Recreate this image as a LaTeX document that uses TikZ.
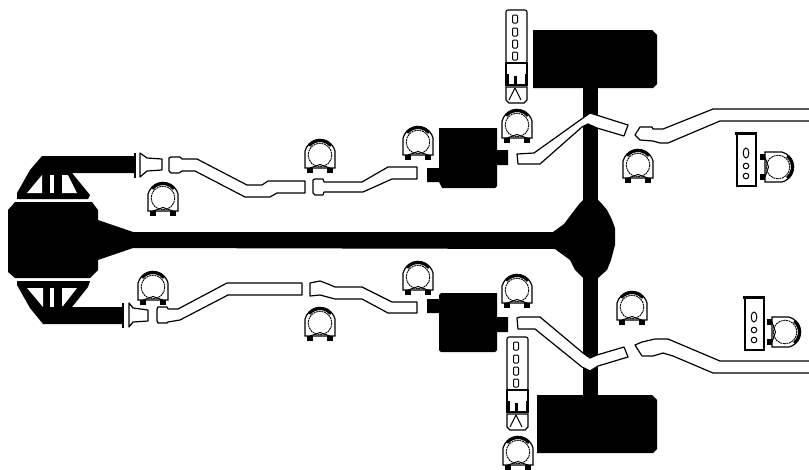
\documentclass[tikz,border=0pt]{standalone}
\tikzset{
  pipeline/.style={draw=black,fill=white,line width=1.2pt,line join=round},
  solidpart/.style={fill=black,draw=none},
  thinpart/.style={draw=black,line width=1.1pt,fill=white},
  cutout/.style={fill=white,draw=none},
  clamp/.pic={
    \draw[line width=1.2pt,fill=white] (15,-4) arc (345:195:15.5) -- (-15,13) -- (15,13) -- cycle;
    \draw[line width=.9pt,dash pattern=on 2pt off .7pt] (0,0) circle (11.8);
    \draw[line width=3.2pt] (-11,-9.4) arc (220:320:14.4);
    \draw[line width=1pt] (-10,13) -- (0,9.5) -- (10,13);
    \fill (-13,13) rectangle (-7,18);
    \fill (7,13) rectangle (13,18);
  },
  sensor/.pic={
    \draw[thinpart,rounded corners=2pt] (0,0) rectangle (21,53);
    \foreach \yy in {5,18,30,42} \draw[line width=1pt,rounded corners=1pt] (6.5,\yy) rectangle (11.5,\yy+8);
    \draw[line width=1.1pt,fill=white] (0,53) rectangle (21,75);
    \fill (0,64) rectangle (2.5,75);
    \fill (18.5,64) rectangle (21,75);
    \fill (7.5,66) rectangle (10.5,74);
    \fill (0,74) rectangle (21,75.5);
    \draw[line width=1.1pt,fill=white] (0,77) -- (21,77) -- (21,90) -- (18,93) -- (3,93) -- (0,90) -- cycle;
    \draw[line width=1pt] (9,78) -- (3,90);
    \draw[line width=1pt] (9,78) -- (15,90);
  },
  relaybox/.pic={
    \draw[line width=1.1pt] (0,0) rectangle (19,53);
    \fill (-2,-1) rectangle (19,1.5);
    \draw[line width=1pt] (9,20) ellipse (2.8 and 5);
    \draw[line width=1pt] (9,33) circle (2.8);
    \draw[line width=1pt] (9,43) circle (2.8);
  }
}
\begin{document}
\begin{tikzpicture}[x=1pt,y=-1pt]
\useasboundingbox (0,0) rectangle (809,469);
\fill[white] (0,0) rectangle (809,469);
% engine
\fill[solidpart] (8,210) -- (15,202) -- (92,202) -- (98,210) -- (98,220) -- (133,232) -- (553,232)
  -- (564,224) -- (573,212) -- (580,203) -- (584,199) -- (597,199) -- (602,204) -- (607,210) -- (612,220) -- (615,228) -- (615,245) -- (611,260) -- (607,270) -- (597,279)
  -- (584,279) -- (575,270) -- (570,260) -- (555,249)
  -- (133,248) -- (98,260) -- (98,270) -- (90,278) -- (15,278) -- (8,272) -- cycle;
% manifolds
\fill[solidpart] (42,156) -- (135,156) -- (135,173) -- (72,173) -- (90,195) -- (88,199) -- (17,199) -- (17,193) -- (30,170) -- cycle;
\fill[cutout] (42,175) -- (42,193) -- (27,193) -- cycle;
\fill[cutout] (50,175) rectangle (54,193);
\fill[cutout] (62,175) -- (68,175) -- (77,193) -- (62,193) -- cycle;
\fill[solidpart] (17,281) -- (90,281) -- (88,287) -- (72,307) -- (123,307) -- (123,324) -- (43,324) -- (30,308) -- (17,285) -- cycle;
\fill[cutout] (27,288) -- (43,288) -- (43,307) -- cycle;
\fill[cutout] (50,288) rectangle (54,307);
\fill[cutout] (62,288) -- (77,288) -- (63,306) -- (62,306) -- cycle;
% flanges
\draw[line width=1.2pt] (135,153) -- (135,178);
\draw[pipeline] (140,153) -- (147,158) -- (162,159) -- (162,170) -- (147,171) -- (140,177) -- cycle;
\draw[line width=1.2pt] (123,303) -- (123,328);
\draw[pipeline] (129,303) -- (133,308) -- (148,310) -- (148,321) -- (133,322) -- (129,327) -- cycle;
% axle and wheels
\fill[solidpart] (583,85) rectangle (598,398);
\fill[solidpart] (533,30) -- (652,30) -- (657,35) -- (657,84) -- (653,88) -- (533,88) -- cycle;
\fill[solidpart] (537,395) -- (652,395) -- (657,400) -- (657,449) -- (653,453) -- (537,453) -- cycle;
% mufflers
\fill[solidpart] (439,128) -- (497,128) -- (497,150) -- (508,150) -- (508,165) -- (497,165) -- (497,186) -- (495,188) -- (442,188) -- (439,182) -- (427,182) -- (427,168) -- (439,168) -- cycle;
\fill[solidpart] (441,293) -- (497,293) -- (497,317) -- (508,317) -- (508,332) -- (497,332) -- (497,350) -- (495,352) -- (441,352) -- (439,350) -- (439,313) -- (427,313) -- (427,299) -- (439,299) -- (439,295) -- cycle;
% pipes
\draw[pipeline] (169,158) -- (171,157) -- (180,157) -- (182,159) -- (197,159) -- (247,185) -- (262,185) -- (268,181) -- (305,181) -- (305,193) -- (277,193) -- (270,197) -- (245,197) -- (195,171) -- (182,171) -- (179,173) -- (171,173) -- (169,171) -- cycle;
\draw[pipeline] (313,180) -- (315,179) -- (323,179) -- (324,182) -- (362,182) -- (388,167) -- (417,167) -- (417,179) -- (392,179) -- (363,192) -- (324,192) -- (323,195) -- (315,195) -- (313,193) -- cycle;
\draw[pipeline] (517,154) -- (534,153) -- (590,113) -- (628,125) -- (624,136) -- (597,128) -- (588,124) -- (582,127) -- (540,164) -- (518,164) -- cycle;
\draw[pipeline] (635,135) -- (640,127) -- (652,127) -- (653,129) -- (663,129) -- (713,109) -- (812,109) -- (812,121) -- (720,121) -- (668,143) -- (660,143) -- (653,141) -- (640,140) -- cycle;
\draw[pipeline] (157,309) -- (158,307) -- (167,307) -- (168,309) -- (178,309) -- (227,283) -- (302,283) -- (302,295) -- (228,295) -- (180,320) -- (168,322) -- (167,323) -- (158,323) -- (157,321) -- cycle;
\draw[pipeline] (310,283) -- (320,281) -- (328,284) -- (335,287) -- (362,287) -- (392,302) -- (417,302) -- (417,313) -- (388,313) -- (362,299) -- (335,299) -- (320,295) -- (310,296) -- cycle;
\draw[pipeline] (517,318) -- (520,317) -- (540,317) -- (583,353) -- (590,358) -- (597,355) -- (624,347) -- (628,357) -- (598,366) -- (590,371) -- (582,367) -- (535,329) -- (518,329) -- cycle;
\draw[pipeline] (635,345) -- (642,342) -- (655,339) -- (668,339) -- (720,361) -- (812,361) -- (812,373) -- (713,373) -- (673,356) -- (663,353) -- (653,356) -- (642,356) -- cycle;
% clamps
\foreach \cx/\cy in {163/198,153/287,320/155,418/142,517/125,638/165,418/277,517/290,632/307,518/452,320/323}
  \pic at (\cx,\cy) {clamp};
\pic[rotate=-90] at (778,167) {clamp};
\pic[rotate=-90] at (785,332) {clamp};
% relay boxes
\pic at (737,133) {relaybox};
\pic at (745,297) {relaybox};
% sensors
\pic at (506,10) {sensor};
\pic at (507,337) {sensor};
\end{tikzpicture}
\end{document}
